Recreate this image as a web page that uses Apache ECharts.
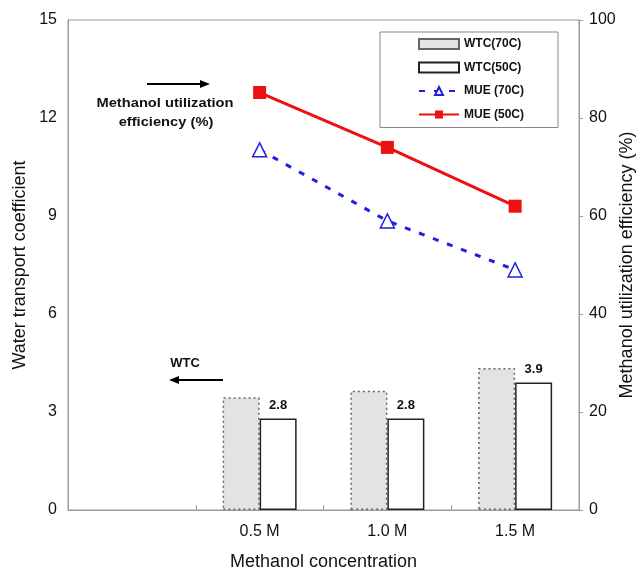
<!DOCTYPE html>
<html>
<head>
<meta charset="utf-8">
<script src="https://cdn.jsdelivr.net/npm/echarts@6/dist/echarts.min.js"></script>
<style>html,body{margin:0;padding:0;background:#fff;}#c{width:642px;height:571px;}</style>
</head>
<body>
<div id="c"></div>
<script>
const categories = ['', '0.5 M', '1.0 M', '1.5 M'];
const wtc70 = [null, 3.45, 3.65, 4.35];
const wtc50 = [null, 2.8, 2.8, 3.9];
const mue70 = [null, 73.5, 59, 49];
const mue50 = [null, 85.2, 74, 62];
const leftTicks = {min: 0, max: 15, interval: 3};
const rightTicks = {min: 0, max: 100, interval: 20};

const chart = echarts.init(document.getElementById('c'), null, {renderer: 'canvas'});
const FONT = 'Liberation Sans, Arial, sans-serif';
const axisGray = '#9a9a9a';
const annFont = 'bold 13px Liberation Sans, Arial, sans-serif';

chart.setOption({
  animation: false,
  textStyle: {fontFamily: FONT},
  grid: {left: 68, right: 63, top: 20, bottom: 61, show: true, borderColor: axisGray, borderWidth: 1,
         containLabel: false, outerBoundsMode: 'none'},
  legend: {
    orient: 'vertical', left: 380, top: 32,
    backgroundColor: '#fff', borderColor: '#888', borderWidth: 1,
    padding: [5, 34, 6, 38], itemGap: 9.5, itemWidth: 40, itemHeight: 10,
    textStyle: {fontFamily: FONT, fontWeight: 'bold', fontSize: 12, color: '#111', lineHeight: 14},
    data: [
      {name: 'WTC(70C)', icon: 'rect'},
      {name: 'WTC(50C)', icon: 'rect'},
      {name: 'MUE (70C)'},
      {name: 'MUE (50C)'}
    ]
  },
  xAxis: {
    type: 'category', data: categories, boundaryGap: true,
    name: 'Methanol concentration', nameLocation: 'middle', nameGap: 43, nameMoveOverlap: false,
    nameTextStyle: {fontSize: 18, color: '#111', fontFamily: FONT},
    axisLine: {lineStyle: {color: axisGray, width: 1}},
    axisTick: {show: true, inside: true, length: 5, lineStyle: {color: axisGray}},
    axisLabel: {fontSize: 16, color: '#111', margin: 14, fontFamily: FONT}
  },
  yAxis: [
    {
      type: 'value', min: leftTicks.min, max: leftTicks.max, interval: leftTicks.interval,
      name: 'Water transport coefficient', nameLocation: 'middle', nameGap: 39, nameMoveOverlap: false,
      nameTextStyle: {fontSize: 18, color: '#111', fontFamily: FONT},
      axisLine: {show: true, lineStyle: {color: axisGray}},
      axisTick: {show: false},
      splitLine: {show: false},
      axisLabel: {fontSize: 16, color: '#111', margin: 11, fontFamily: FONT}
    },
    {
      type: 'value', position: 'right', min: rightTicks.min, max: rightTicks.max, interval: rightTicks.interval,
      name: 'Methanol utilization efficiency (%)', nameLocation: 'middle', nameGap: 39, nameMoveOverlap: false,
      nameRotate: 90,
      nameTextStyle: {fontSize: 18, color: '#111', fontFamily: FONT},
      axisLine: {show: true, lineStyle: {color: axisGray}},
      axisTick: {show: true, length: 4, lineStyle: {color: axisGray}},
      splitLine: {show: false},
      axisLabel: {fontSize: 16, color: '#111', margin: 10, fontFamily: FONT}
    }
  ],
  series: [
    {
      name: 'WTC(70C)', type: 'bar', yAxisIndex: 0, data: wtc70,
      barWidth: 37, barGap: '0%',
      itemStyle: {color: '#e3e3e3', borderColor: '#666', borderWidth: 1.5, borderType: [2, 3]}
    },
    {
      name: 'WTC(50C)', type: 'bar', yAxisIndex: 0, data: wtc50,
      barWidth: 37, barGap: '0%',
      itemStyle: {color: '#fff', borderColor: '#222', borderWidth: 1.5},
      label: {show: true, position: 'top', distance: 7, fontWeight: 'bold', fontSize: 13, color: '#111', fontFamily: FONT}
    },
    {
      name: 'MUE (70C)', type: 'line', yAxisIndex: 1, data: mue70,
      symbol: 'triangle', symbolSize: 14,
      lineStyle: {color: '#1f1fe0', width: 3, type: [6, 9]},
      itemStyle: {color: '#fff', borderColor: '#1f1fe0', borderWidth: 1.5}
    },
    {
      name: 'MUE (50C)', type: 'line', yAxisIndex: 1, data: mue50,
      symbol: 'rect', symbolSize: 13,
      lineStyle: {color: '#ee1111', width: 3},
      itemStyle: {color: '#ee1111'}
    }
  ],
  graphic: [
    {type: 'line', shape: {x1: 147, y1: 84, x2: 202, y2: 84}, style: {stroke: '#000', lineWidth: 2}},
    {type: 'polygon', shape: {points: [[210, 84], [200, 80], [200, 88]]}, style: {fill: '#000'}},
    {type: 'text', x: 165, y: 103, scaleX: 1.13,
     style: {text: 'Methanol utilization', x: 0, y: 0, textAlign: 'center', textVerticalAlign: 'middle', font: annFont, fill: '#111'}},
    {type: 'text', x: 166, y: 122, scaleX: 1.13,
     style: {text: 'efficiency (%)', x: 0, y: 0, textAlign: 'center', textVerticalAlign: 'middle', font: annFont, fill: '#111'}},
    {type: 'text', x: 185, y: 363,
     style: {text: 'WTC', x: 0, y: 0, textAlign: 'center', textVerticalAlign: 'middle', font: annFont, fill: '#111'}},
    {type: 'line', shape: {x1: 177, y1: 380, x2: 223, y2: 380}, style: {stroke: '#000', lineWidth: 2}},
    {type: 'polygon', shape: {points: [[169, 380], [179, 376], [179, 384]]}, style: {fill: '#000'}}
  ]
});
</script>
</body>
</html>
